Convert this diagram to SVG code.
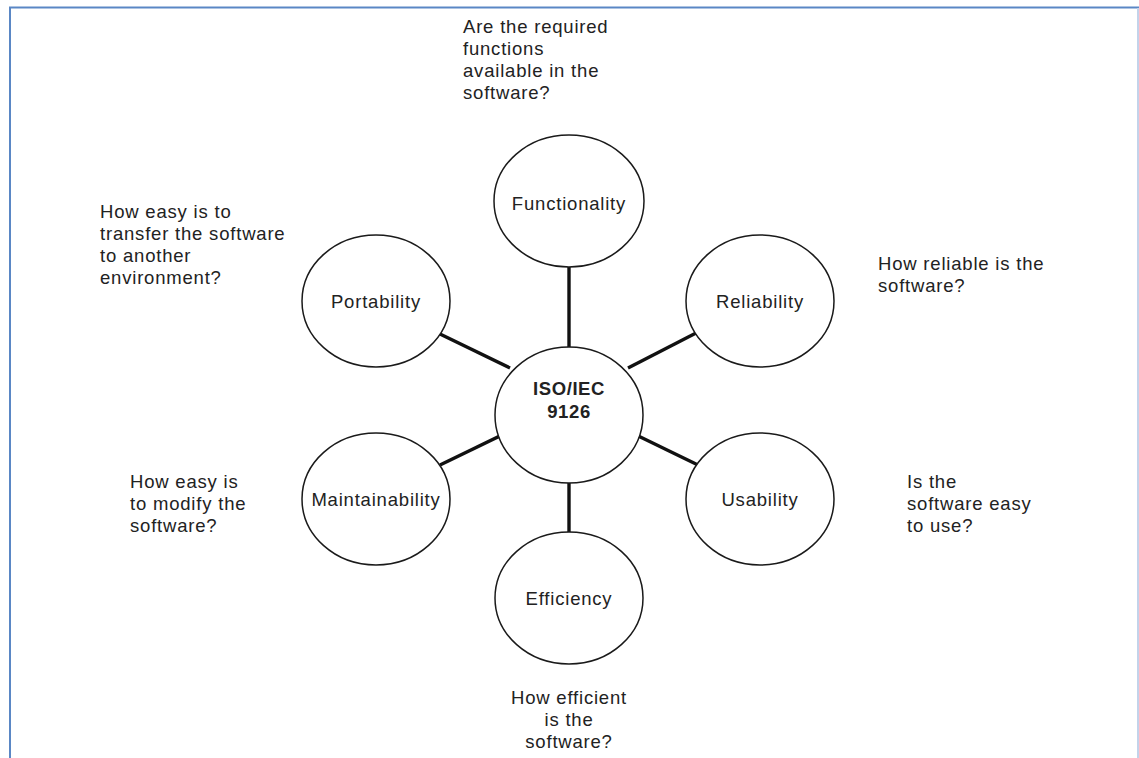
<svg xmlns="http://www.w3.org/2000/svg" width="1139" height="758" viewBox="0 0 1139 758">
  <style>
    .frame { fill: none; stroke: #5a87c5; stroke-width: 2; }
    .frame-r { fill: none; stroke: #c3d3ea; stroke-width: 2; }
    .node { fill: #ffffff; stroke: #1a1a1a; stroke-width: 1.5; }
    .link { stroke: #111111; stroke-width: 3.4; stroke-linecap: butt; }
    .lbl { font-family: "Liberation Sans", Arial, sans-serif; font-size: 18.5px; fill: #222222; letter-spacing: 0.8px; }
    .mid { text-anchor: middle; }
    .bold { font-weight: bold; letter-spacing: 0.6px; }
  </style>

  <rect width="1139" height="758" fill="#ffffff"/>

  <!-- page frame (left, top, right edges) -->
  <path class="frame" d="M10,758 V7.5 H1139"/>
  <path class="frame-r" d="M1138,8 V758"/>

  <!-- connectors from the hub to each characteristic -->
  <g id="connectors">
    <line class="link" x1="569" y1="262" x2="569" y2="352"/>
    <line class="link" x1="569" y1="478" x2="569" y2="538"/>
    <line class="link" x1="440" y1="334" x2="510" y2="368"/>
    <line class="link" x1="698" y1="332" x2="628" y2="368"/>
    <line class="link" x1="440" y1="465" x2="510" y2="431"/>
    <line class="link" x1="698" y1="465" x2="628" y2="431"/>
  </g>

  <g id="hub">
    <ellipse class="node" cx="569" cy="415" rx="74" ry="68"/>
    <text class="lbl mid bold" x="569" y="395">ISO/IEC</text>
    <text class="lbl mid bold" x="569" y="418">9126</text>
  </g>

  <g id="functionality">
    <ellipse class="node" cx="569" cy="201" rx="75" ry="66"/>
    <text class="lbl mid" x="569" y="210">Functionality</text>
  </g>

  <g id="reliability">
    <ellipse class="node" cx="760" cy="301" rx="74" ry="66"/>
    <text class="lbl mid" x="760" y="308">Reliability</text>
  </g>

  <g id="portability">
    <ellipse class="node" cx="376" cy="301" rx="74" ry="66"/>
    <text class="lbl mid" x="376" y="308">Portability</text>
  </g>

  <g id="maintainability">
    <ellipse class="node" cx="376" cy="499" rx="74" ry="66"/>
    <text class="lbl mid" x="376" y="506">Maintainability</text>
  </g>

  <g id="usability">
    <ellipse class="node" cx="760" cy="499" rx="74" ry="66"/>
    <text class="lbl mid" x="760" y="506">Usability</text>
  </g>

  <g id="efficiency">
    <ellipse class="node" cx="569" cy="598" rx="74" ry="66"/>
    <text class="lbl mid" x="569" y="605">Efficiency</text>
  </g>

  <!-- guiding questions -->
  <g id="q-functionality">
    <text class="lbl" x="463" y="33">Are the required</text>
    <text class="lbl" x="463" y="55">functions</text>
    <text class="lbl" x="463" y="77">available in the</text>
    <text class="lbl" x="463" y="99">software?</text>
  </g>

  <g id="q-portability">
    <text class="lbl" x="100" y="218">How easy is to</text>
    <text class="lbl" x="100" y="240">transfer the software</text>
    <text class="lbl" x="100" y="262">to another</text>
    <text class="lbl" x="100" y="284">environment?</text>
  </g>

  <g id="q-reliability">
    <text class="lbl" x="878" y="270">How reliable is the</text>
    <text class="lbl" x="878" y="292">software?</text>
  </g>

  <g id="q-maintainability">
    <text class="lbl" x="130" y="488">How easy is</text>
    <text class="lbl" x="130" y="510">to modify the</text>
    <text class="lbl" x="130" y="532">software?</text>
  </g>

  <g id="q-usability">
    <text class="lbl" x="907" y="488">Is the</text>
    <text class="lbl" x="907" y="510">software easy</text>
    <text class="lbl" x="907" y="532">to use?</text>
  </g>

  <g id="q-efficiency">
    <text class="lbl mid" x="569" y="704">How efficient</text>
    <text class="lbl mid" x="569" y="726">is the</text>
    <text class="lbl mid" x="569" y="748">software?</text>
  </g>
</svg>
